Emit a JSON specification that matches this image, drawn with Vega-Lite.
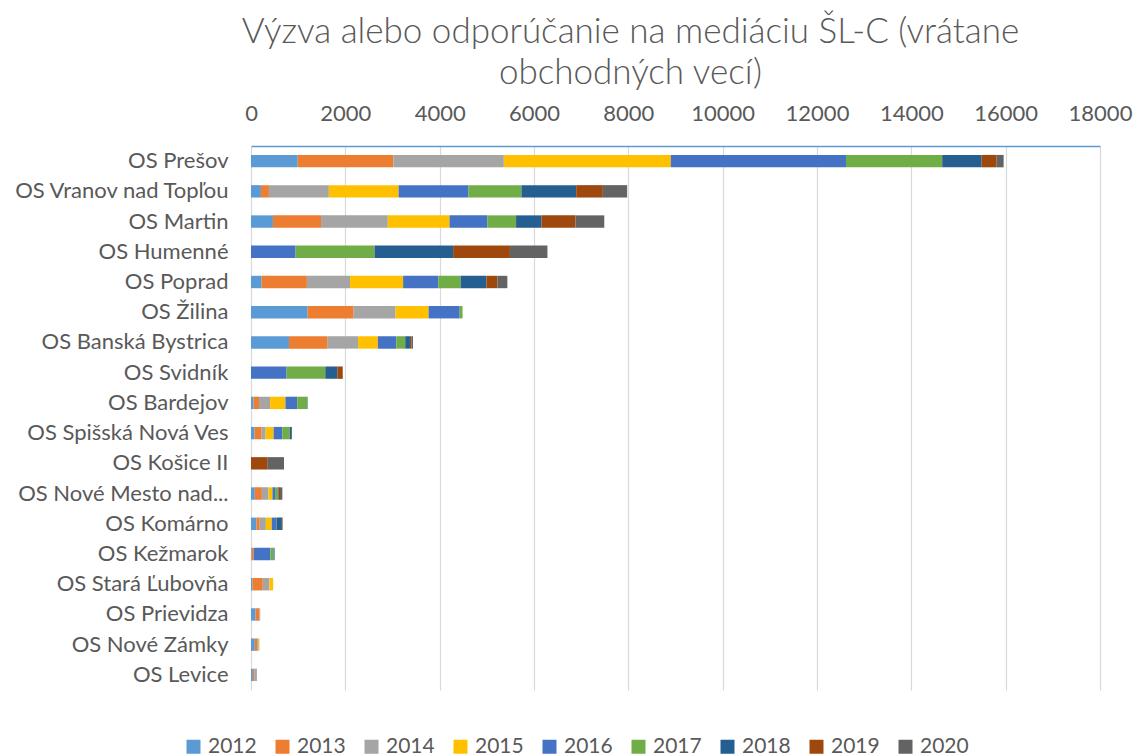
{
  "$schema": "https://vega.github.io/schema/vega-lite/v6.json",
  "width": 849,
  "height": 544,
  "autosize": {"type": "none"},
  "padding": {"left": 251, "top": 146, "right": 37, "bottom": 66},
  "background": "white",
  "config": {
    "font": "Lato",
    "view": {"stroke": null}
  },
  "title": {
    "text": ["Výzva alebo odporúčanie na mediáciu ŠL-C (vrátane", "obchodných vecí)"],
    "fontSize": 35,
    "fontWeight": 300,
    "color": "#595959",
    "font": "Lato",
    "lineHeight": 41,
    "anchor": "middle",
    "dx": -45,
    "offset": 11
  },
  "data": {
    "values": [
      {"court": "OS Prešov", "year": "2012", "n": 990},
      {"court": "OS Prešov", "year": "2013", "n": 2030},
      {"court": "OS Prešov", "year": "2014", "n": 2340},
      {"court": "OS Prešov", "year": "2015", "n": 3540},
      {"court": "OS Prešov", "year": "2016", "n": 3715},
      {"court": "OS Prešov", "year": "2017", "n": 2040},
      {"court": "OS Prešov", "year": "2018", "n": 835},
      {"court": "OS Prešov", "year": "2019", "n": 318},
      {"court": "OS Prešov", "year": "2020", "n": 149},
      {"court": "OS Vranov nad Topľou", "year": "2012", "n": 210},
      {"court": "OS Vranov nad Topľou", "year": "2013", "n": 170},
      {"court": "OS Vranov nad Topľou", "year": "2014", "n": 1270},
      {"court": "OS Vranov nad Topľou", "year": "2015", "n": 1480},
      {"court": "OS Vranov nad Topľou", "year": "2016", "n": 1480},
      {"court": "OS Vranov nad Topľou", "year": "2017", "n": 1125},
      {"court": "OS Vranov nad Topľou", "year": "2018", "n": 1160},
      {"court": "OS Vranov nad Topľou", "year": "2019", "n": 565},
      {"court": "OS Vranov nad Topľou", "year": "2020", "n": 515},
      {"court": "OS Martin", "year": "2012", "n": 465},
      {"court": "OS Martin", "year": "2013", "n": 1020},
      {"court": "OS Martin", "year": "2014", "n": 1415},
      {"court": "OS Martin", "year": "2015", "n": 1310},
      {"court": "OS Martin", "year": "2016", "n": 800},
      {"court": "OS Martin", "year": "2017", "n": 610},
      {"court": "OS Martin", "year": "2018", "n": 540},
      {"court": "OS Martin", "year": "2019", "n": 720},
      {"court": "OS Martin", "year": "2020", "n": 610},
      {"court": "OS Humenné", "year": "2016", "n": 945},
      {"court": "OS Humenné", "year": "2017", "n": 1675},
      {"court": "OS Humenné", "year": "2018", "n": 1665},
      {"court": "OS Humenné", "year": "2019", "n": 1205},
      {"court": "OS Humenné", "year": "2020", "n": 795},
      {"court": "OS Poprad", "year": "2012", "n": 225},
      {"court": "OS Poprad", "year": "2013", "n": 960},
      {"court": "OS Poprad", "year": "2014", "n": 915},
      {"court": "OS Poprad", "year": "2015", "n": 1125},
      {"court": "OS Poprad", "year": "2016", "n": 745},
      {"court": "OS Poprad", "year": "2017", "n": 475},
      {"court": "OS Poprad", "year": "2018", "n": 545},
      {"court": "OS Poprad", "year": "2019", "n": 235},
      {"court": "OS Poprad", "year": "2020", "n": 210},
      {"court": "OS Žilina", "year": "2012", "n": 1200},
      {"court": "OS Žilina", "year": "2013", "n": 975},
      {"court": "OS Žilina", "year": "2014", "n": 890},
      {"court": "OS Žilina", "year": "2015", "n": 700},
      {"court": "OS Žilina", "year": "2016", "n": 660},
      {"court": "OS Žilina", "year": "2017", "n": 60},
      {"court": "OS Banská Bystrica", "year": "2012", "n": 805},
      {"court": "OS Banská Bystrica", "year": "2013", "n": 820},
      {"court": "OS Banská Bystrica", "year": "2014", "n": 645},
      {"court": "OS Banská Bystrica", "year": "2015", "n": 420},
      {"court": "OS Banská Bystrica", "year": "2016", "n": 390},
      {"court": "OS Banská Bystrica", "year": "2017", "n": 190},
      {"court": "OS Banská Bystrica", "year": "2018", "n": 100},
      {"court": "OS Banská Bystrica", "year": "2019", "n": 30},
      {"court": "OS Banská Bystrica", "year": "2020", "n": 35},
      {"court": "OS Svidník", "year": "2016", "n": 755},
      {"court": "OS Svidník", "year": "2017", "n": 820},
      {"court": "OS Svidník", "year": "2018", "n": 255},
      {"court": "OS Svidník", "year": "2019", "n": 115},
      {"court": "OS Bardejov", "year": "2012", "n": 55},
      {"court": "OS Bardejov", "year": "2013", "n": 115},
      {"court": "OS Bardejov", "year": "2014", "n": 235},
      {"court": "OS Bardejov", "year": "2015", "n": 325},
      {"court": "OS Bardejov", "year": "2016", "n": 250},
      {"court": "OS Bardejov", "year": "2017", "n": 210},
      {"court": "OS Bardejov", "year": "2018", "n": 10},
      {"court": "OS Spišská Nová Ves", "year": "2012", "n": 75},
      {"court": "OS Spišská Nová Ves", "year": "2013", "n": 150},
      {"court": "OS Spišská Nová Ves", "year": "2014", "n": 85},
      {"court": "OS Spišská Nová Ves", "year": "2015", "n": 170},
      {"court": "OS Spišská Nová Ves", "year": "2016", "n": 185},
      {"court": "OS Spišská Nová Ves", "year": "2017", "n": 155},
      {"court": "OS Spišská Nová Ves", "year": "2018", "n": 30},
      {"court": "OS Spišská Nová Ves", "year": "2020", "n": 20},
      {"court": "OS Košice II", "year": "2019", "n": 355},
      {"court": "OS Košice II", "year": "2020", "n": 345},
      {"court": "OS Nové Mesto nad...", "year": "2012", "n": 80},
      {"court": "OS Nové Mesto nad...", "year": "2013", "n": 150},
      {"court": "OS Nové Mesto nad...", "year": "2014", "n": 140},
      {"court": "OS Nové Mesto nad...", "year": "2015", "n": 85},
      {"court": "OS Nové Mesto nad...", "year": "2016", "n": 55},
      {"court": "OS Nové Mesto nad...", "year": "2017", "n": 55},
      {"court": "OS Nové Mesto nad...", "year": "2018", "n": 20},
      {"court": "OS Nové Mesto nad...", "year": "2019", "n": 30},
      {"court": "OS Nové Mesto nad...", "year": "2020", "n": 50},
      {"court": "OS Komárno", "year": "2012", "n": 115},
      {"court": "OS Komárno", "year": "2013", "n": 70},
      {"court": "OS Komárno", "year": "2014", "n": 130},
      {"court": "OS Komárno", "year": "2015", "n": 125},
      {"court": "OS Komárno", "year": "2016", "n": 90},
      {"court": "OS Komárno", "year": "2017", "n": 10},
      {"court": "OS Komárno", "year": "2018", "n": 115},
      {"court": "OS Komárno", "year": "2019", "n": 15},
      {"court": "OS Kežmarok", "year": "2012", "n": 10},
      {"court": "OS Kežmarok", "year": "2013", "n": 45},
      {"court": "OS Kežmarok", "year": "2016", "n": 355},
      {"court": "OS Kežmarok", "year": "2017", "n": 70},
      {"court": "OS Kežmarok", "year": "2018", "n": 20},
      {"court": "OS Stará Ľubovňa", "year": "2012", "n": 30},
      {"court": "OS Stará Ľubovňa", "year": "2013", "n": 220},
      {"court": "OS Stará Ľubovňa", "year": "2014", "n": 140},
      {"court": "OS Stará Ľubovňa", "year": "2015", "n": 80},
      {"court": "OS Prievidza", "year": "2012", "n": 95},
      {"court": "OS Prievidza", "year": "2013", "n": 85},
      {"court": "OS Prievidza", "year": "2014", "n": 15},
      {"court": "OS Nové Zámky", "year": "2012", "n": 80},
      {"court": "OS Nové Zámky", "year": "2013", "n": 50},
      {"court": "OS Nové Zámky", "year": "2014", "n": 20},
      {"court": "OS Nové Zámky", "year": "2015", "n": 15},
      {"court": "OS Nové Zámky", "year": "2017", "n": 10},
      {"court": "OS Levice", "year": "2012", "n": 40},
      {"court": "OS Levice", "year": "2013", "n": 30},
      {"court": "OS Levice", "year": "2014", "n": 55}
    ]
  },
  "mark": {"type": "bar"},
  "encoding": {
    "y": {
      "field": "court",
      "type": "nominal",
      "sort": ["OS Prešov", "OS Vranov nad Topľou", "OS Martin", "OS Humenné", "OS Poprad", "OS Žilina", "OS Banská Bystrica", "OS Svidník", "OS Bardejov", "OS Spišská Nová Ves", "OS Košice II", "OS Nové Mesto nad...", "OS Komárno", "OS Kežmarok", "OS Stará Ľubovňa", "OS Prievidza", "OS Nové Zámky", "OS Levice"],
      "scale": {"paddingInner": 0.59, "paddingOuter": 0.295},
      "axis": {
        "title": null,
        "ticks": false,
        "domain": false,
        "labelFontSize": 22,
        "labelColor": "#595959",
        "labelPadding": 23,
        "labelLimit": 400
      }
    },
    "x": {
      "field": "n",
      "type": "quantitative",
      "stack": "zero",
      "scale": {"domain": [0, 18000], "nice": false},
      "axis": {
        "orient": "top",
        "title": null,
        "values": [0, 2000, 4000, 6000, 8000, 10000, 12000, 14000, 16000, 18000],
        "format": "d",
        "ticks": false,
        "labelFlush": false,
        "labelOverlap": false,
        "labelFontSize": 22,
        "labelColor": "#595959",
        "labelPadding": 21,
        "domainColor": "#5B9BD5",
        "domainWidth": 1.5,
        "gridColor": "#d9d9d9",
        "gridWidth": 1.2
      }
    },
    "color": {
      "field": "year",
      "type": "nominal",
      "scale": {
        "domain": ["2012", "2013", "2014", "2015", "2016", "2017", "2018", "2019", "2020"],
        "range": ["#5B9BD5", "#ED7D31", "#A5A5A5", "#FFC000", "#4472C4", "#70AD47", "#255E91", "#9E480E", "#636363"]
      },
      "legend": {
        "title": null,
        "orient": "none",
        "direction": "horizontal",
        "columns": 9,
        "legendX": -68,
        "legendY": 590,
        "symbolType": "square",
        "symbolSize": 196,
        "symbolStrokeWidth": 0,
        "labelFontSize": 21,
        "labelColor": "#595959",
        "labelOffset": 4,
        "columnPadding": 15
      }
    },
    "order": {"field": "year", "type": "ordinal"}
  }
}
